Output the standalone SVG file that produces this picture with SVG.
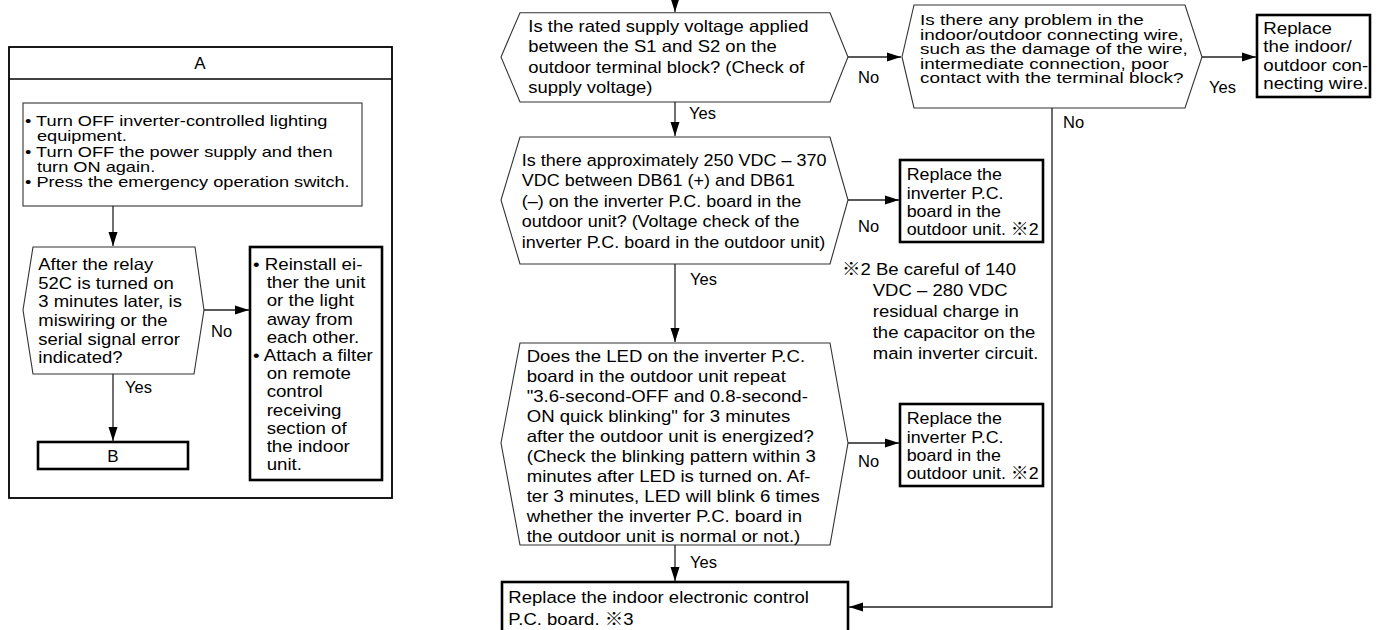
<svg xmlns="http://www.w3.org/2000/svg" width="1378" height="630" viewBox="0 0 1378 630">
<style>
text{font-family:"Liberation Sans","Noto Sans CJK JP",Arial,sans-serif;fill:#000;}
.f17{font-size:17px}
.f165{font-size:16.5px}
.f14{font-size:14px}
.lbl{font-size:16.5px}
.thin{fill:#fff;stroke:#333;stroke-width:1.1}
.thick{fill:#fff;stroke:#000;stroke-width:2.6}
.frame{fill:none;stroke:#000;stroke-width:1.8}
.conn{fill:none;stroke:#222;stroke-width:1.3}
</style>
<defs>
<marker id="ah" markerUnits="userSpaceOnUse" markerWidth="15" markerHeight="10" refX="14" refY="5" orient="auto">
<path d="M0,0.5 L14,5 L0,9.5 z" fill="#000"/>
</marker>
</defs>
<rect width="1378" height="630" fill="#fff"/>

<g id="panelA">
<rect class="frame" x="9" y="47" width="383" height="451"/>
<line x1="9" y1="79" x2="392" y2="79" stroke="#000" stroke-width="1.5"/>
<text class="f17" x="200" y="69" text-anchor="middle">A</text>
</g>

<g id="boxTurnOff">
<rect class="thin" x="23" y="103" width="339" height="103"/>
<text class="f14" transform="translate(25,0) scale(1.3,1)"><tspan x="0" y="126">• Turn OFF inverter-controlled lighting</tspan><tspan x="9.2" y="141.3">equipment.</tspan><tspan x="0" y="156.6">• Turn OFF the power supply and then</tspan><tspan x="9.2" y="171.9">turn ON again.</tspan><tspan x="0" y="187.2">• Press the emergency operation switch.</tspan></text>
</g>

<g id="decRelay">
<polygon class="thin" points="33,247 195,247 204,310 194,374 33,374 23,310"/>
<text class="f165" transform="translate(38.3,0) scale(1.12,1)"><tspan x="0" y="270">After the relay</tspan><tspan x="0" y="288.7">52C is turned on</tspan><tspan x="0" y="307.4">3 minutes later, is</tspan><tspan x="0" y="326.1">miswiring or the</tspan><tspan x="0" y="344.8">serial signal error</tspan><tspan x="0" y="363.5">indicated?</tspan></text>
</g>

<g id="boxReinstall">
<rect class="thick" x="250" y="247" width="132" height="233"/>
<text class="f17" transform="translate(253,0) scale(1.1,1)"><tspan x="0" y="270">• Reinstall ei-</tspan><tspan x="12.4" y="288.2">ther the unit</tspan><tspan x="12.4" y="306.4">or the light</tspan><tspan x="12.4" y="324.6">away from</tspan><tspan x="12.4" y="342.8">each other.</tspan><tspan x="0" y="361">• Attach a filter</tspan><tspan x="12.4" y="379.2">on remote</tspan><tspan x="12.4" y="397.4">control</tspan><tspan x="12.4" y="415.6">receiving</tspan><tspan x="12.4" y="433.8">section of</tspan><tspan x="12.4" y="452">the indoor</tspan><tspan x="12.4" y="470.2">unit.</tspan></text>
</g>

<g id="boxB">
<rect class="thick" x="38" y="442" width="150" height="27"/>
<text class="f17" x="113" y="461.7" text-anchor="middle">B</text>
</g>

<g id="decSupply">
<polygon class="thin" points="520,12.7 830,12.7 848,57 830,102 520,102 501,57"/>
<text class="f165" transform="translate(528.3,0) scale(1.12,1)"><tspan x="0" y="31.7">Is the rated supply voltage applied</tspan><tspan x="0" y="52.3">between the S1 and S2 on the</tspan><tspan x="0" y="72.9">outdoor terminal block? (Check of</tspan><tspan x="0" y="93.5">supply voltage)</tspan></text>
</g>

<g id="decWire">
<polygon class="thin" points="914,5 1185,5 1202,57 1185,108 914,108 902,57"/>
<text class="f14" transform="translate(920,0) scale(1.35,1)"><tspan x="0" y="25.3">Is there any problem in the</tspan><tspan x="0" y="39.8">indoor/outdoor connecting wire,</tspan><tspan x="0" y="54.3">such as the damage of the wire,</tspan><tspan x="0" y="68.8">intermediate connection, poor</tspan><tspan x="0" y="83.3">contact with the terminal block?</tspan></text>
</g>

<g id="boxWire">
<rect class="thick" x="1257" y="15" width="113" height="82"/>
<text class="f17" transform="translate(1263.3,0) scale(1.1,1)"><tspan x="0" y="34">Replace</tspan><tspan x="0" y="52.3">the indoor/</tspan><tspan x="0" y="70.6">outdoor con-</tspan><tspan x="0" y="89">necting wire.</tspan></text>
</g>

<g id="decDC">
<polygon class="thin" points="520,137 830,137 848,200 830,264 520,264 501,200"/>
<text class="f165" transform="translate(521.7,0) scale(1.09,1)"><tspan x="0" y="166">Is there approximately 250 VDC – 370</tspan><tspan x="0" y="186.5">VDC between DB61 (+) and DB61</tspan><tspan x="0" y="207">(–) on the inverter P.C. board in the</tspan><tspan x="0" y="227.5">outdoor unit? (Voltage check of the</tspan><tspan x="0" y="248">inverter P.C. board in the outdoor unit)</tspan></text>
</g>

<g id="boxInv1">
<rect class="thick" x="900" y="160" width="143" height="82"/>
<text class="f17" transform="translate(906.7,0) scale(1.05,1)"><tspan x="0" y="180.3">Replace the</tspan><tspan x="0" y="198.6">inverter P.C.</tspan><tspan x="0" y="216.9">board in the</tspan><tspan x="0" y="235.2">outdoor unit. ※2</tspan></text>
</g>

<g id="note2">
<text class="f17" transform="translate(842,0) scale(1.09,1)"><tspan x="0" y="275">※2 Be careful of 140</tspan><tspan x="28.2" y="296">VDC – 280 VDC</tspan><tspan x="28.2" y="317">residual charge in</tspan><tspan x="28.2" y="338">the capacitor on the</tspan><tspan x="28.2" y="359">main inverter circuit.</tspan></text>
</g>

<g id="decLED">
<polygon class="thin" points="520,343 830,343 848,443 830,545 520,545 501,443"/>
<text class="f165" transform="translate(526.7,0) scale(1.126,1)"><tspan x="0" y="362">Does the LED on the inverter P.C.</tspan><tspan x="0" y="382">board in the outdoor unit repeat</tspan><tspan x="0" y="402">"3.6-second-OFF and 0.8-second-</tspan><tspan x="0" y="422">ON quick blinking" for 3 minutes</tspan><tspan x="0" y="442">after the outdoor unit is energized?</tspan><tspan x="0" y="462">(Check the blinking pattern within 3</tspan><tspan x="0" y="482">minutes after LED is turned on. Af-</tspan><tspan x="0" y="502">ter 3 minutes, LED will blink 6 times</tspan><tspan x="0" y="522">whether the inverter P.C. board in</tspan><tspan x="0" y="542">the outdoor unit is normal or not.)</tspan></text>
</g>

<g id="boxInv2">
<rect class="thick" x="900" y="404" width="143" height="82"/>
<text class="f17" transform="translate(906.7,0) scale(1.05,1)"><tspan x="0" y="424.3">Replace the</tspan><tspan x="0" y="442.6">inverter P.C.</tspan><tspan x="0" y="460.9">board in the</tspan><tspan x="0" y="479.2">outdoor unit. ※2</tspan></text>
</g>

<g id="boxIndoor">
<rect class="thick" x="502" y="582" width="346" height="60"/>
<text class="f17" transform="translate(508.3,0) scale(1.09,1)"><tspan x="0" y="603.3">Replace the indoor electronic control</tspan><tspan x="0" y="625">P.C. board.  ※3</tspan></text>
</g>

<g id="connectors">
<path class="conn" d="M113,206 V246" marker-end="url(#ah)"/>
<path class="conn" d="M204,310 H249" marker-end="url(#ah)"/>
<path class="conn" d="M113,374 V441" marker-end="url(#ah)"/>
<path class="conn" d="M675,0 V12" marker-end="url(#ah)"/>
<path class="conn" d="M848,57 H901" marker-end="url(#ah)"/>
<path class="conn" d="M1202,57 H1256" marker-end="url(#ah)"/>
<path class="conn" d="M675,102 V136" marker-end="url(#ah)"/>
<path class="conn" d="M848,200 H899" marker-end="url(#ah)"/>
<path class="conn" d="M675,264 V342" marker-end="url(#ah)"/>
<path class="conn" d="M848,443 H899" marker-end="url(#ah)"/>
<path class="conn" d="M675,545 V581" marker-end="url(#ah)"/>
<path class="conn" d="M1052,108 V607 H849" marker-end="url(#ah)"/>
<text class="lbl" x="211" y="337">No</text>
<text class="lbl" x="125" y="393">Yes</text>
<text class="lbl" x="858" y="83">No</text>
<text class="lbl" x="1209" y="93">Yes</text>
<text class="lbl" x="1063" y="128">No</text>
<text class="lbl" x="689" y="119">Yes</text>
<text class="lbl" x="858" y="232">No</text>
<text class="lbl" x="690" y="285">Yes</text>
<text class="lbl" x="858" y="467">No</text>
<text class="lbl" x="690" y="568">Yes</text>
</g>
</svg>
